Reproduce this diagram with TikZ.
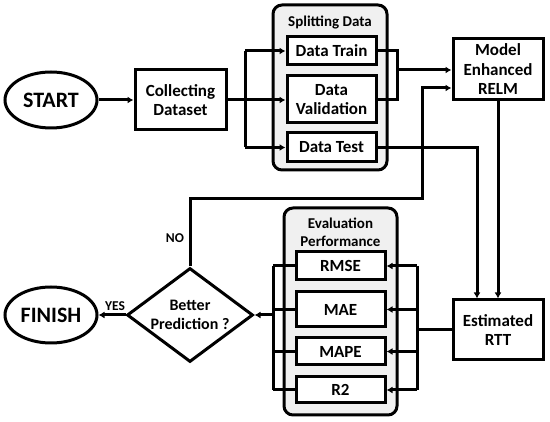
\documentclass[tikz,border=0pt]{standalone}
\usepackage{fontspec}
\setmainfont{Carlito}
\usetikzlibrary{shapes.geometric,arrows.meta}
\begin{document}
\begin{tikzpicture}[x=1pt,y=-1pt,
  lw/.style={line width=3pt},
  box/.style={draw,lw,fill=white,align=center,inner sep=0pt,font=\bfseries\fontsize{17}{19.5}\selectfont},
  grp/.style={draw,lw,fill=gray!12,rounded corners=9pt,inner sep=0pt},
  term/.style={draw,lw,ellipse,fill=white,inner sep=0pt,minimum width=92pt,minimum height=56pt,font=\bfseries\fontsize{22}{24}\selectfont},
  conn/.style={lw},
  arr/.style={lw,-{Latex[length=6pt,width=7pt]}},
  ttl/.style={font=\bfseries\fontsize{15}{18}\selectfont,align=center},
  lbl/.style={font=\bfseries\fontsize{13.5}{15}\selectfont}]
\useasboundingbox (0,0) rectangle (550,422);
% containers
\node[grp,minimum width=114pt,minimum height=165pt] (split) at (330,87.5) {};
\node[ttl] (splitt) at (330,23) {Splitting Data};
\node[grp,minimum width=113pt,minimum height=207pt] (eval) at (340.5,311.5) {};
\node[ttl] (evalt) at (340.5,232) {Evaluation\\Performance};
% nodes
\node[term] (start) at (51,100) {START};
\node[term] (finish) at (51,315) {FINISH};
\node[box,minimum width=91pt,minimum height=60pt] (coll) at (180.5,100) {Collecting\\Dataset};
\node[box,minimum width=89pt,minimum height=28pt] (train) at (331.5,51) {Data Train};
\node[box,minimum width=89pt,minimum height=47pt] (valid) at (331.5,99.5) {Data\\Validation};
\node[box,minimum width=89pt,minimum height=29pt] (test) at (331.5,147.5) {Data Test};
\node[box,minimum width=90pt,minimum height=61pt] (model) at (498,69.5) {Model\\Enhanced\\RELM};
\node[box,minimum width=90pt,minimum height=60pt] (est) at (498,330) {Estimated\\RTT};
\node[box,minimum width=89pt,minimum height=28pt] (rmse) at (340.5,266) {RMSE};
\node[box,minimum width=89pt,minimum height=35pt] (mae) at (340.5,309.5) {MAE};
\node[box,minimum width=89pt,minimum height=27pt] (mape) at (340.5,351.5) {MAPE};
\node[box,minimum width=89pt,minimum height=26pt] (rtwo) at (340.5,390) {R2};
\node[box,diamond,aspect=1.34,minimum width=126pt,minimum height=94pt,font=\bfseries\fontsize{16}{19}\selectfont] (dia) at (190,315) {Better\\Prediction ?};
% coordinates
\coordinate (b1t) at (245,51);
\coordinate (b1b) at (245,147.5);
\coordinate (j1) at (397,70);
\coordinate (nc) at (422,199);
\coordinate (r1) at (417,266);
\coordinate (r2) at (417,390);
\coordinate (l1) at (273,266);
\coordinate (l2) at (273,390);
% connectors
\draw[arr] (start) -- (coll);
\draw[conn] (coll.east) -- (coll.east -| b1t);
\draw[conn] (b1t) -- (b1b);
\draw[arr] (b1t) -- (train.west);
\draw[arr] (coll.east -| b1t) -- (valid.west |- coll.east);
\draw[arr] (b1b) -- (test.west);
\draw[conn] (train.east) -| (j1) |- (valid.east);
\draw[arr] (j1) -- (j1 -| model.west);
\draw[arr] (dia.north) |- (nc) |- ([yshift=-18.5pt]model.west);
\draw[arr] (test.east) -| ([xshift=-21pt]est.north);
\draw[arr] (model.south) -- (est.north);
\draw[conn] (r1) -- (r2);
\draw[conn] (est.west) -- (est.west -| r1);
\draw[arr] (r1) -- (rmse.east);
\draw[arr] (mae.east -| r1) -- (mae.east);
\draw[arr] (mape.east -| r1) -- (mape.east);
\draw[arr] (r2) -- (rtwo.east);
\draw[conn] (l1) -- (l2);
\draw[conn] (rmse.west) -- (l1);
\draw[conn] (mae.west) -- (mae.west -| l1);
\draw[conn] (mape.west) -- (mape.west -| l1);
\draw[conn] (rtwo.west) -- (l2);
\draw[arr] (dia.east -| l1) -- (dia.east);
\draw[arr] (dia.west) -- (finish.east);
\node[lbl] (yes) at (115,306) {YES};
\node[lbl] (no) at (175,238) {NO};
\end{tikzpicture}
\end{document}
